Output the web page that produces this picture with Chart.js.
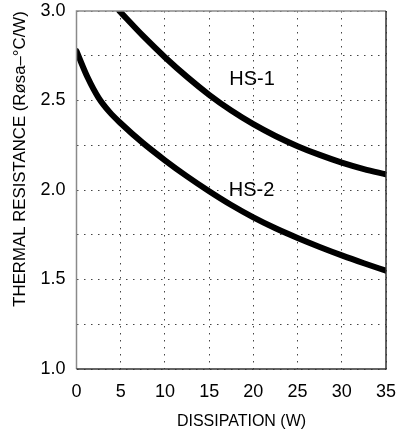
<!DOCTYPE html>
<html><head><meta charset="utf-8">
<script src="https://cdn.jsdelivr.net/npm/chart.js@4"></script>
<style>html,body{margin:0;padding:0;background:#fff}#wrap{width:401px;height:431px}</style>
</head><body><div id="wrap"><canvas id="c" width="401" height="431"></canvas></div>
<script>
const hs1X = [4.85, 7.5, 10, 12.5, 15, 17.5, 20, 22.5, 25, 27.5, 30, 32.5, 35];
const hs1Y = [3.0, 2.862, 2.742, 2.632, 2.532, 2.444, 2.368, 2.302, 2.245, 2.196, 2.153, 2.117, 2.087];
const hs2X = [0, 1.25, 2.5, 3.75, 5, 7.5, 10, 12.5, 15, 17.5, 20, 22.5, 25, 27.5, 30, 32.5, 35];
const hs2Y = [2.776, 2.630, 2.515, 2.435, 2.373, 2.263, 2.166, 2.076, 1.993, 1.916, 1.847, 1.786, 1.732, 1.682, 1.635, 1.591, 1.549];
const xTicks = [0, 5, 10, 15, 20, 25, 30, 35];
const yTicks = [1.0, 1.5, 2.0, 2.5, 3.0];
const labels = [{text: 'HS-1', x: 19.85, y: 2.615}, {text: 'HS-2', x: 19.8, y: 2.0}];
const xTitle = 'DISSIPATION (W)';
const yTitle = 'THERMAL RESISTANCE (Røsa–°C/W)';
const FONT = "'Liberation Sans', Arial, sans-serif";

const pts = (xs, ys) => xs.map((x, i) => ({x, y: ys[i]}));

const frame = {
  id: 'frame',
  afterDraw(chart) {
    const {ctx, chartArea: a} = chart;
    ctx.save();
    ctx.lineWidth = 1.5;
    ctx.strokeStyle = '#8a8a8a';
    ctx.beginPath(); ctx.moveTo(a.left, a.bottom); ctx.lineTo(a.left, a.top); ctx.lineTo(a.right, a.top); ctx.stroke();
    ctx.strokeStyle = '#333';
    ctx.beginPath(); ctx.moveTo(a.left, a.bottom); ctx.lineTo(a.right, a.bottom); ctx.lineTo(a.right, a.top); ctx.stroke();
    ctx.restore();
  }
};
const textLabels = {
  id: 'textLabels',
  afterDatasetsDraw(chart) {
    const {ctx, scales: {x, y}} = chart;
    ctx.save();
    ctx.fillStyle = '#000';
    ctx.textAlign = 'center';
    ctx.textBaseline = 'middle';
    ctx.font = '20px ' + FONT;
    labels.forEach(l => ctx.fillText(l.text, x.getPixelForValue(l.x), y.getPixelForValue(l.y)));
    ctx.font = '16px ' + FONT;
    ctx.fillText(xTitle, 241.5, 422);
    ctx.translate(20.5, 159);
    ctx.rotate(-Math.PI / 2);
    ctx.font = '16.8px ' + FONT;
    ctx.fillText(yTitle, 0, 0);
    ctx.restore();
  }
};

new Chart(document.getElementById('c'), {
  type: 'scatter',
  data: {
    datasets: [
      {data: pts(hs1X, hs1Y), showLine: true, borderColor: '#000', borderWidth: 6, pointRadius: 0, cubicInterpolationMode: 'monotone', borderCapStyle: 'round'},
      {data: pts(hs2X, hs2Y), showLine: true, borderColor: '#000', borderWidth: 6, pointRadius: 0, cubicInterpolationMode: 'monotone', borderCapStyle: 'round'}
    ]
  },
  options: {
    responsive: false,
    animation: false,
    layout: {padding: {top: 11, right: 15, left: 0, bottom: 0}},
    plugins: {legend: {display: false}, tooltip: {enabled: false}},
    scales: {
      x: {
        type: 'linear', min: 0, max: 35,
        afterFit(s) { s.height = 62; s.paddingLeft = 0; s.paddingRight = 0; },
        afterBuildTicks(s) { s.ticks = xTicks.map(v => ({value: v})); },
        border: {display: false, dash: [1.5, 5.5]},
        grid: {color: '#444', lineWidth: 1, drawTicks: false},
        ticks: {padding: 12, color: '#000', font: {family: FONT, size: 18}}
      },
      y: {
        type: 'linear', min: 1.0, max: 3.0,
        afterFit(s) { s.width = 76.5; s.paddingTop = 0; s.paddingBottom = 0; },
        ticks: {stepSize: 0.25, padding: 11, color: '#000', font: {family: FONT, size: 18},
          callback: v => yTicks.some(t => Math.abs(t - v) < 1e-6) ? v.toFixed(1) : ''},
        border: {display: false, dash: [1.5, 5.5]},
        grid: {color: '#444', lineWidth: 1, drawTicks: false}
      }
    }
  },
  plugins: [frame, textLabels]
});
</script></body></html>
